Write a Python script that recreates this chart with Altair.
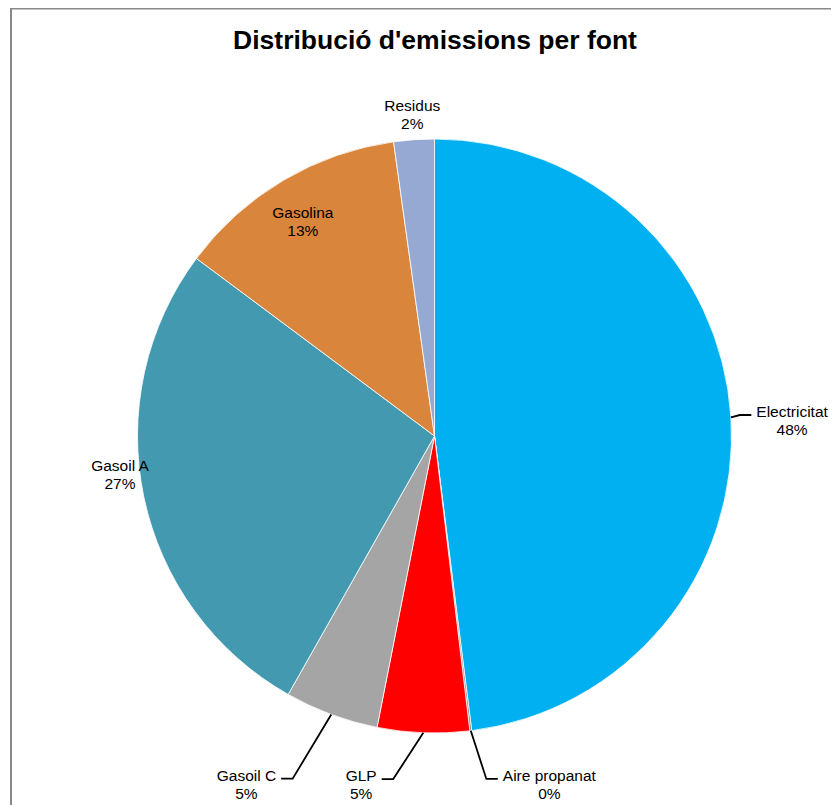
import math
import altair as alt
import pandas as pd

# ---------------- data ----------------
categories = ["Electricitat", "Aire propanat", "GLP", "Gasoil C", "Gasoil A", "Gasolina", "Residus"]
values = [48.0, 0.1, 5.0, 5.1, 27.0, 12.6, 2.2]
colors = ["#00B0F0", "#7F7F7F", "#FF0000", "#A5A5A5", "#4299B0", "#D9853B", "#95A9D2"]
title_text = "Distribució d'emissions per font"

# ---------------- layout / style ----------------
W, H = 823, 797           # view size (px)
R_PX = 297                # pie radius (px)
CX_PX, CY_PX = 426.5, 428 # pie centre inside the view (px)
FONT = "Liberation Sans"
FS = 15.5
LINE_GAP = 9              # half distance between name and percent lines (px)

# label placement: (radius factor, angle nudge in degrees, leader side)
LABEL_PLACE = {
    "Electricitat": (1.205, 1.2, "right"),
    "Aire propanat": (1.237, -11.2, "right"),
    "GLP": (1.201, 9.7, "left"),
    "Gasoil C": (1.334, 8.0, "left"),
    "Gasoil A": (1.067, 4.8, None),
    "Gasolina": (0.846, -1.0, None),
    "Residus": (1.083, 0.0, None),
}

# approximate Arial/Liberation Sans advance widths (per 1000 em)
AW = {'A': 667, 'C': 722, 'E': 667, 'G': 778, 'L': 556, 'P': 667, 'R': 722,
      'a': 556, 'c': 500, 'd': 556, 'e': 556, 'g': 556, 'i': 222, 'l': 222,
      'n': 556, 'o': 556, 'p': 556, 'r': 333, 's': 500, 't': 278, 'u': 556,
      ' ': 278, '%': 889}


def text_w(s):
    return sum(AW.get(ch, 556) for ch in s) / 1000.0 * FS


xs = alt.Scale(domain=[-CX_PX / R_PX, (W - CX_PX) / R_PX], nice=False, zero=False)
ys = alt.Scale(domain=[-(H - CY_PX) / R_PX, CY_PX / R_PX], nice=False, zero=False)

total = sum(values)
pie_df = pd.DataFrame({
    "category": categories,
    "value": values,
    "order": list(range(len(categories))),
    "cx": [0.0] * len(categories),
    "cy": [0.0] * len(categories),
})

label_rows = []
leader_rows = []
cum = 0.0
for cat, val in zip(categories, values):
    mid = (cum + val / 2) / total * 360.0
    cum += val
    rf, nudge, side = LABEL_PLACE[cat]
    a = math.radians(mid + nudge)
    u, v = rf * math.sin(a), rf * math.cos(a)
    pct = f"{round(val / total * 100)}%"
    label_rows.append({"category": cat, "pct": pct, "u": u,
                       "v_name": v + LINE_GAP / R_PX, "v_pct": v - LINE_GAP / R_PX})
    if side:
        m = math.radians(mid)
        p0 = (math.sin(m), math.cos(m))
        half = text_w(cat) / 2
        ly = v + (LINE_GAP - 3) / R_PX
        if side == "left":
            p2x = u + (half + 5) / R_PX
            p1x = p2x + 11.5 / R_PX
        else:
            p2x = u - (half + 5) / R_PX
            p1x = p2x - 11.5 / R_PX
        for i, (px, py) in enumerate([p0, (p1x, ly), (p2x, ly)]):
            leader_rows.append({"category": cat, "idx": i, "u": px, "v": py})

labels_df = pd.DataFrame(label_rows)
leaders_df = pd.DataFrame(leader_rows)

X = lambda f: alt.X(f, scale=xs, axis=None)
Y = lambda f: alt.Y(f, scale=ys, axis=None)

pie = alt.Chart(pie_df).mark_arc(radius=R_PX, stroke="#FFFFFF", strokeWidth=0.8).encode(
    theta=alt.Theta("value:Q", stack=True),
    order=alt.Order("order:Q"),
    color=alt.Color("category:N", scale=alt.Scale(domain=categories, range=colors), legend=None),
    x=X("cx:Q"),
    y=Y("cy:Q"),
)

leaders = alt.Chart(leaders_df).mark_line(color="#000000", strokeWidth=1.8).encode(
    x=X("u:Q"), y=Y("v:Q"), detail="category:N", order="idx:Q"
)

names = alt.Chart(labels_df).mark_text(font=FONT, fontSize=FS, color="#000000",
                                       baseline="middle", align="center").encode(
    x=X("u:Q"), y=Y("v_name:Q"), text="category:N"
)
pcts = alt.Chart(labels_df).mark_text(font=FONT, fontSize=FS, color="#000000",
                                      baseline="middle", align="center").encode(
    x=X("u:Q"), y=Y("v_pct:Q"), text="pct:N"
)

one = pd.DataFrame({"k": [0]})
border_left = alt.Chart(one).mark_rule(color="#888888", strokeWidth=2).encode(
    x=alt.value(3), y=alt.value(0), y2=alt.value(H)
)
border_top = alt.Chart(one).mark_rule(color="#888888", strokeWidth=2).encode(
    x=alt.value(2), x2=alt.value(W), y=alt.value(0.5)
)

chart = alt.layer(pie, leaders, names, pcts, border_left, border_top).properties(
    width=W, height=H,
    autosize=alt.AutoSizeParams(type="none"),
    padding=0,
    title=alt.TitleParams(text=title_text, font=FONT, fontSize=26.5, fontWeight="bold",
                          color="#000000", anchor="middle", frame="group",
                          offset=0, dy=68, dx=15.5, baseline="alphabetic"),
).configure_view(stroke=None)

chart.save("out.html", embed_options={"renderer": "svg", "actions": False})
